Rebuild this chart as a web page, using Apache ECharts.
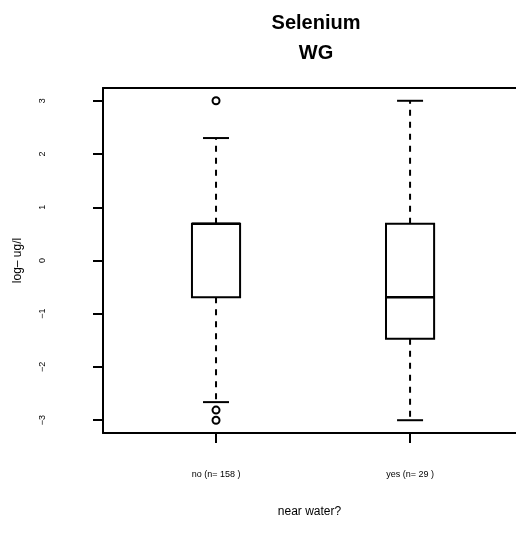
<!DOCTYPE html>
<html><head><meta charset="utf-8">
<script src="https://cdn.jsdelivr.net/npm/echarts@6/dist/echarts.min.js"></script>
<style>html,body{margin:0;padding:0;background:#fff}#c{width:516px;height:533px}</style>
</head><body><div id="c"></div>
<script>
const categories = ['no (n= 158 )', 'yes (n= 29 )'];
const lowerWhisker = [-2.66, -3.0];
const q1 = [-0.69, -1.47];
const median = [0.69, -0.69];
const q3 = [0.69, 0.69];
const upperWhisker = [2.30, 3.0];
const outlierGroup = [0, 0, 0];
const outlierValue = [3.0, -2.81, -3.0];
const yTicks = [-3, -2, -1, 0, 1, 2, 3];
const titleText = 'Selenium\nWG';
const yTitle = 'log\u2013 ug/l';
const xTitle = 'near water?';

const FONT = 'Liberation Sans, Arial, Helvetica, sans-serif';
const chart = echarts.init(document.getElementById('c'), null, {renderer: 'canvas'});
const boxData = categories.map((c, i) => [i + 1, lowerWhisker[i], q1[i], median[i], q3[i], upperWhisker[i]]);
const outData = outlierValue.map((v, k) => [outlierGroup[k] + 1, v]);
const BOX_HALF = 0.124, STAPLE_HALF = 0.067;
const LW = 2;
function renderBox(params, api) {
  const x = api.value(0);
  const lo = api.value(1), a = api.value(2), m = api.value(3), b = api.value(4), hi = api.value(5);
  const tl = api.coord([x - BOX_HALF, b]), br = api.coord([x + BOX_HALF, a]);
  const pHi = api.coord([x, hi]), pLo = api.coord([x, lo]), pB = api.coord([x, b]), pA = api.coord([x, a]);
  const sL = api.coord([x - STAPLE_HALF, hi])[0], sR = api.coord([x + STAPLE_HALF, hi])[0];
  const mL = api.coord([x - BOX_HALF, m]), mR = api.coord([x + BOX_HALF, m]);
  const solid = {stroke: '#000', lineWidth: LW, fill: null};
  const dashed = {stroke: '#000', lineWidth: LW, lineDash: [6, 6], fill: null};
  return {type: 'group', children: [
    {type: 'line', shape: {x1: pB[0], y1: pB[1], x2: pHi[0], y2: pHi[1]}, style: dashed},
    {type: 'line', shape: {x1: pA[0], y1: pA[1], x2: pLo[0], y2: pLo[1]}, style: dashed},
    {type: 'line', shape: {x1: sL, y1: pHi[1], x2: sR, y2: pHi[1]}, style: solid},
    {type: 'line', shape: {x1: sL, y1: pLo[1], x2: sR, y2: pLo[1]}, style: solid},
    {type: 'rect', shape: {x: tl[0], y: tl[1], width: br[0] - tl[0], height: br[1] - tl[1]}, style: {stroke: '#000', lineWidth: LW, fill: '#fff'}},
    {type: 'line', shape: {x1: mL[0], y1: mL[1], x2: mR[0], y2: mR[1]}, style: {stroke: '#000', lineWidth: 2.5}}
  ]};
}
chart.setOption({
  animation: false,
  backgroundColor: '#fff',
  title: {
    text: titleText, left: 311, top: 3, textAlign: 'center',
    textStyle: {fontFamily: FONT, fontSize: 20, fontWeight: 'bold', color: '#000', lineHeight: 30, align: 'center'}
  },
  grid: {left: 103, top: 88, right: 0, height: 345, show: false},
  xAxis: [{
    type: 'value', min: 0.4175, max: 2.546,
    axisLine: {show: true, onZero: false, lineStyle: {color: '#000', width: LW}},
    splitLine: {show: false},
    axisTick: {show: true, customValues: [1, 2], length: 10, lineStyle: {color: '#000', width: LW}},
    axisLabel: {customValues: [1, 2], formatter: v => categories[Math.round(v) - 1], fontFamily: FONT, fontSize: 9, color: '#000', margin: 37},
    name: xTitle, nameLocation: 'middle', nameGap: 73,
    nameTextStyle: {fontFamily: FONT, fontSize: 12, color: '#000'}
  }, {
    type: 'value', position: 'top', min: 0.4175, max: 2.546,
    axisLine: {show: true, onZero: false, lineStyle: {color: '#000', width: LW}},
    splitLine: {show: false}, axisTick: {show: false}, axisLabel: {show: false}
  }],
  yAxis: {
    type: 'value', min: -3.24, max: 3.24,
    axisLine: {show: true, onZero: false, lineStyle: {color: '#000', width: LW}},
    splitLine: {show: false},
    axisTick: {show: true, customValues: yTicks, length: 10, lineStyle: {color: '#000', width: LW}},
    axisLabel: {customValues: yTicks, rotate: 90, formatter: v => String(v).replace('-', '\u2212'), fontFamily: FONT, fontSize: 9, color: '#000', margin: 56},
    name: yTitle, nameLocation: 'middle', nameRotate: 90, nameGap: 79,
    nameTextStyle: {fontFamily: FONT, fontSize: 12, color: '#000'}
  },
  series: [
    {type: 'custom', renderItem: renderBox, data: boxData, encode: {x: 0, y: [1, 2, 3, 4, 5]}, clip: false, z: 2},
    {type: 'scatter', data: outData, symbol: 'circle', symbolSize: 7,
      itemStyle: {color: '#fff', borderColor: '#000', borderWidth: 2, opacity: 1}, z: 3}
  ]
});
</script></body></html>
